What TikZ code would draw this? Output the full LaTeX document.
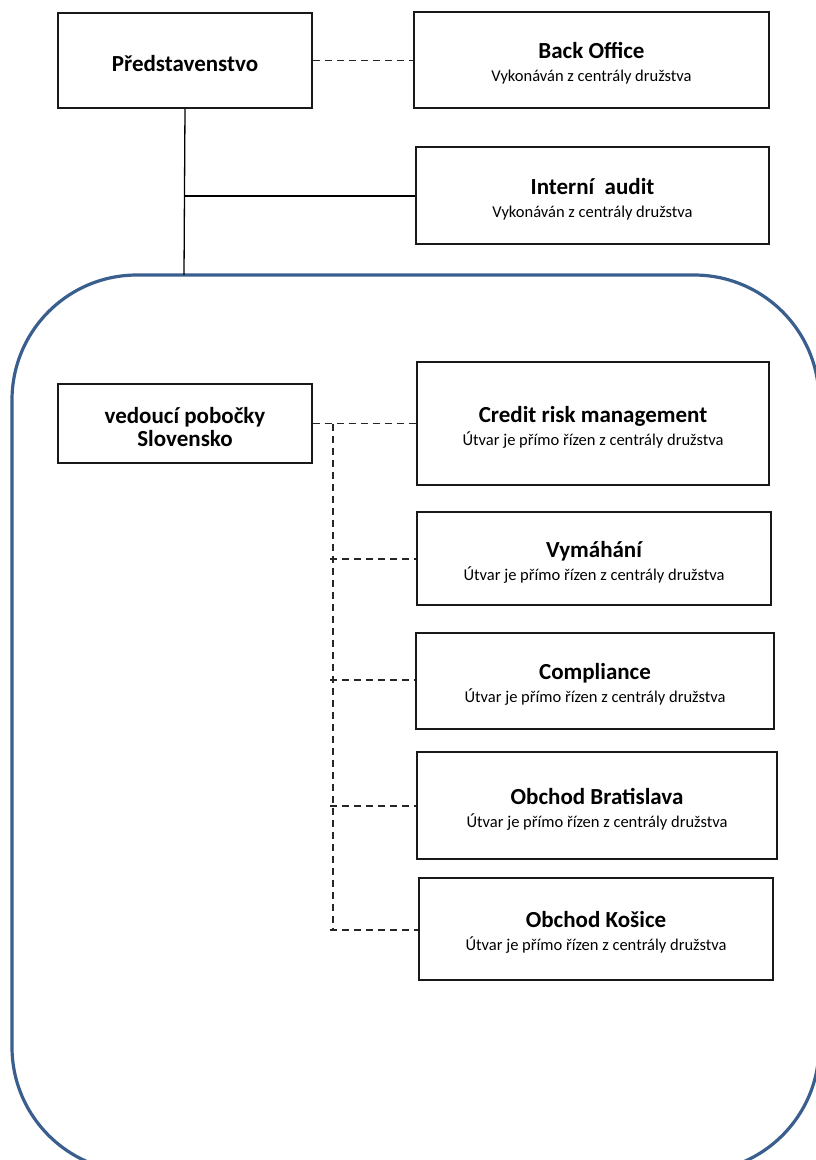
\documentclass[tikz,border=0pt]{standalone}
\usepackage{fontspec}
\setmainfont{Carlito}
\begin{document}
\begin{tikzpicture}[x=1pt,y=-1pt,
  box/.style={draw=black!90, line width=1.6pt, fill=white, align=center, inner sep=0pt,
    font=\fontsize{16.5}{23}\selectfont},
  conn/.style={line width=1.3pt, black},
  dconn/.style={line width=1.6pt, black!85, dash pattern=on 7pt off 5pt},
  frame/.style={draw=frameblue, line width=3.2pt, rounded corners=125pt}]
\definecolor{frameblue}{HTML}{3A5F8E}
\newcommand{\ttltext}[1]{{\fontsize{23}{23}\selectfont\bfseries #1}}
\newcommand{\tstrut}{\rule{0pt}{23pt}}
\useasboundingbox (0,0) rectangle (816,1160);
\clip (0,0) rectangle (816,1160);
\fill[white] (0,0) rectangle (816,1160);
% outer frame
\draw[frame] (12,275) rectangle (819,1172);
\coordinate (ftop) at (184,275);
% top boxes
\node[box, minimum width=254pt, minimum height=95pt] (pr) at (185,60.5)
  {\tstrut\ttltext{Představenstvo}};
\node[box, minimum width=355pt, minimum height=96pt] (bo) at (591.5,60)
  {\tstrut\ttltext{Back Office}\\Vykonáván z centrály družstva};
\node[box, minimum width=353pt, minimum height=97pt] (ia) at (592.5,195.5)
  {\tstrut\ttltext{Interní\ \ audit}\\Vykonáván z centrály družstva};
% inside frame
\node[box, minimum width=254pt, minimum height=79pt] (vs) at (185,423.5)
  {\tstrut\ttltext{vedoucí pobočky}\\\ttltext{Slovensko}};
\node[box, minimum width=352pt, minimum height=123pt] (cr) at (593,423.5)
  {\tstrut\ttltext{Credit risk management}\\Útvar je přímo řízen z centrály družstva};
\node[box, minimum width=354pt, minimum height=93pt] (vy) at (594,558.5)
  {\tstrut\ttltext{Vymáhání}\\Útvar je přímo řízen z centrály družstva};
\node[box, minimum width=358pt, minimum height=96pt] (co) at (595,681)
  {\tstrut\ttltext{Compliance}\\Útvar je přímo řízen z centrály družstva};
\node[box, minimum width=360pt, minimum height=107pt] (ob) at (597,805.5)
  {\tstrut\ttltext{Obchod Bratislava}\\Útvar je přímo řízen z centrály družstva};
\node[box, minimum width=354pt, minimum height=102pt] (ok) at (596,929)
  {\tstrut\ttltext{Obchod Košice}\\Útvar je přímo řízen z centrály družstva};
% connectors
\draw[conn] (pr.south) -- (ftop);
\coordinate (j1) at (184,196);
\draw[conn] (j1) -- (ia.west |- j1);
\draw[dconn] (pr.east) -- (bo.west |- pr.east);
\draw[dconn] (vs.east) -- (cr.west |- vs.east);
\coordinate (vtop) at (333,424);
\coordinate (vbot) at (333,930);
\draw[dconn] (vtop) -- (vbot);
\coordinate (b1) at (330,559);
\coordinate (b2) at (330,680);
\coordinate (b3) at (330,806);
\coordinate (b4) at (330,930);
\draw[dconn] (b1) -- (vy.west |- b1);
\draw[dconn] (b2) -- (co.west |- b2);
\draw[dconn] (b3) -- (ob.west |- b3);
\draw[dconn] (b4) -- (ok.west |- b4);
\end{tikzpicture}
\end{document}
